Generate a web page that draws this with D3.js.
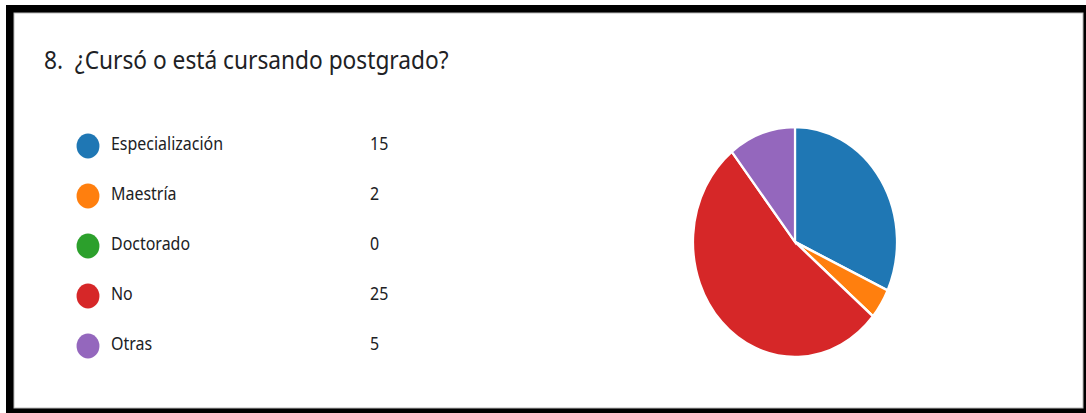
<!DOCTYPE html>
<html>
<head>
<meta charset="utf-8">
<script src="https://cdn.jsdelivr.net/npm/d3@7"></script>
<style>
  body { margin: 0; background: #fff; }
  text { font-family: 'Noto Sans', 'Open Sans', sans-serif; fill: #202124; }
</style>
</head>
<body>
<div id="chart"></div>
<script>
// data
var categories = ["Especialización", "Maestría", "Doctorado", "No", "Otras"];
var counts = [15, 2, 0, 25, 5];
var colors = ["#1f77b4", "#ff7f0e", "#2ca02c", "#d62728", "#9467bd"];
var title = "8.  ¿Cursó o está cursando postgrado?";

var w = 1086, h = 413;
var sx = 0.887; // the screenshot is squeezed sideways

var svg = d3.select("#chart").append("svg")
    .attr("width", w)
    .attr("height", h);

// black frame
svg.append("rect").attr("x", 6).attr("y", 5).attr("width", w - 6).attr("height", h - 5).attr("fill", "#000");
svg.append("rect").attr("x", 14).attr("y", 13).attr("width", 1069).attr("height", 395)
    .attr("fill", "#fff").attr("stroke", "#bbb").attr("stroke-width", 1);

svg.append("text")
    .attr("transform", "translate(44,69) scale(" + sx + ",1)")
    .attr("font-size", 25.6)
    .style("white-space", "pre")
    .attr("xml:space", "preserve")
    .text(title);

// legend
var y = d3.scaleBand().domain(categories).range([120, 370]);

var rows = svg.selectAll(".row")
    .data(categories)
    .enter().append("g")
    .attr("class", "row")
    .attr("transform", function(d) { return "translate(0," + (y(d) + y.bandwidth() / 2) + ")"; });

rows.append("ellipse")
    .attr("cx", 88).attr("cy", 1)
    .attr("rx", 12 * sx + 0.8).attr("ry", 12.5)
    .attr("fill", function(d, i) { return colors[i]; });

rows.append("text")
    .attr("transform", "translate(111,5) scale(" + sx + ",1)")
    .attr("font-size", 18)
    .text(function(d) { return d; });

rows.append("text")
    .attr("transform", "translate(370,5) scale(" + sx + ",1)")
    .attr("font-size", 18)
    .text(function(d, i) { return counts[i]; });

// pie, squeezed into an ellipse like the picture
var r = 115;
var pie = d3.pie().sort(null).value(function(d) { return d; });
var arc = d3.arc().innerRadius(0).outerRadius(r);

var g = svg.append("g")
    .attr("transform", "translate(795,242) scale(" + sx + ",1)");

g.selectAll("path")
    .data(pie(counts))
    .enter().append("path")
    .attr("d", arc)
    .attr("fill", function(d, i) { return colors[i]; })
    .attr("stroke", "#fff")
    .attr("stroke-width", 2.5);
</script>
</body>
</html>
